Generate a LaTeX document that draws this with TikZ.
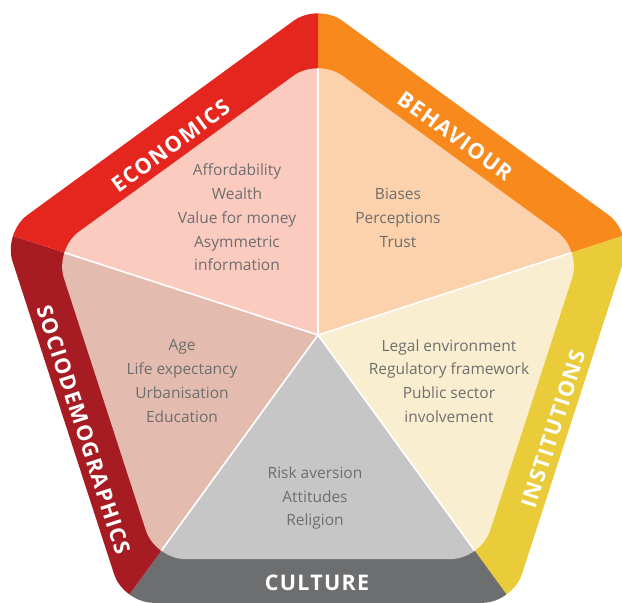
\documentclass[tikz,border=0pt]{standalone}
\usepackage{fontspec}
\setmainfont{Open Sans}
\newfontfamily\labelfont[LetterSpace=6]{Open Sans}
\usetikzlibrary{calc}
\definecolor{econband}{RGB}{228,38,30}
\definecolor{behavband}{RGB}{247,137,29}
\definecolor{instband}{RGB}{234,203,58}
\definecolor{cultband}{RGB}{109,110,112}
\definecolor{socioband}{RGB}{166,28,34}
\definecolor{econin}{RGB}{252,203,192}
\definecolor{behavin}{RGB}{252,210,172}
\definecolor{instin}{RGB}{249,239,208}
\definecolor{cultin}{RGB}{199,198,199}
\definecolor{socioin}{RGB}{227,188,175}
\definecolor{bodygray}{RGB}{110,110,110}
\tikzset{
  bandlabel/.style={text=white, inner sep=0pt, font=\labelfont\bfseries\fontsize{21.5}{24}\selectfont},
  bodytext/.style={text=bodygray, align=center, inner sep=0pt, font=\fontsize{15.5}{23.8}\selectfont},
  separator/.style={white, line width=1.6pt},
  outerround/.style={rounded corners=30pt},
  innerround/.style={rounded corners=30pt}
}
\begin{document}
\begin{tikzpicture}[x=1pt,y=-1pt]
\useasboundingbox (0,0) rectangle (622,603);
\coordinate (C) at (318,335);
% outer pentagon vertices
\coordinate (O0) at (318,3);
\coordinate (O1) at (632.8,232.7);
\coordinate (O2) at (512.6,602.8);
\coordinate (O3) at (123.4,602.8);
\coordinate (O4) at (3.2,232.7);
% inner pentagon vertices
\coordinate (I0) at (318,58);
\coordinate (I1) at (581.4,249.4);
\coordinate (I2) at (480.8,559.1);
\coordinate (I3) at (155.2,559.1);
\coordinate (I4) at (54.6,249.4);
% outer band
\begin{scope}
\clip[outerround] ($(O0)!0.5!(O1)$) -- (O1) -- (O2) -- (O3) -- (O4) -- (O0) -- cycle;
\fill[behavband] (C) -- ($(C)!2!(O0)$) -- ($(C)!2!(O1)$) -- cycle;
\fill[instband] (C) -- ($(C)!2!(O1)$) -- ($(C)!2!(O2)$) -- cycle;
\fill[cultband] (C) -- ($(C)!2!(O2)$) -- ($(C)!2!(O3)$) -- cycle;
\fill[socioband] (C) -- ($(C)!2!(O3)$) -- ($(C)!2!(O4)$) -- cycle;
\fill[econband] (C) -- ($(C)!2!(O4)$) -- ($(C)!2!(O0)$) -- cycle;
\end{scope}
% inner pentagon
\begin{scope}
\clip[innerround] ($(I0)!0.5!(I1)$) -- (I1) -- (I2) -- (I3) -- (I4) -- (I0) -- cycle;
\fill[behavin] (C) -- ($(C)!2!(O0)$) -- ($(C)!2!(O1)$) -- cycle;
\fill[instin] (C) -- ($(C)!2!(O1)$) -- ($(C)!2!(O2)$) -- cycle;
\fill[cultin] (C) -- ($(C)!2!(O2)$) -- ($(C)!2!(O3)$) -- cycle;
\fill[socioin] (C) -- ($(C)!2!(O3)$) -- ($(C)!2!(O4)$) -- cycle;
\fill[econin] (C) -- ($(C)!2!(O4)$) -- ($(C)!2!(O0)$) -- cycle;
\draw[separator] (C) -- (I0);
\draw[separator] (C) -- (I1);
\draw[separator] (C) -- (I2);
\draw[separator] (C) -- (I3);
\draw[separator] (C) -- (I4);
\end{scope}
% band labels
\node[bandlabel, rotate=36] (econL) at (170.5,146) {ECONOMICS};
\node[bandlabel, rotate=-36] (behavL) at (455,136) {BEHAVIOUR};
\node[bandlabel, rotate=72] (instL) at (553.5,429) {INSTITUTIONS};
\node[bandlabel, rotate=-72] (socioL) at (83.5,429.5) {SOCIODEMOGRAPHICS};
\node[bandlabel] (cultL) at (317,583) {CULTURE};
% body texts
\node[bodytext] (econT) at (237,217.5) {Affordability\\Wealth\\Value for money\\Asymmetric\\information};
\node[bodytext] (behavT) at (398,218) {Biases\\Perceptions\\Trust};
\node[bodytext] (instT) at (449,381) {Legal environment\\Regulatory framework\\Public sector\\involvement};
\node[bodytext] (socioT) at (182,381) {Age\\Life expectancy\\Urbanisation\\Education};
\node[bodytext] (cultT) at (315,498) {Risk aversion\\Attitudes\\Religion};
\end{tikzpicture}
\end{document}
